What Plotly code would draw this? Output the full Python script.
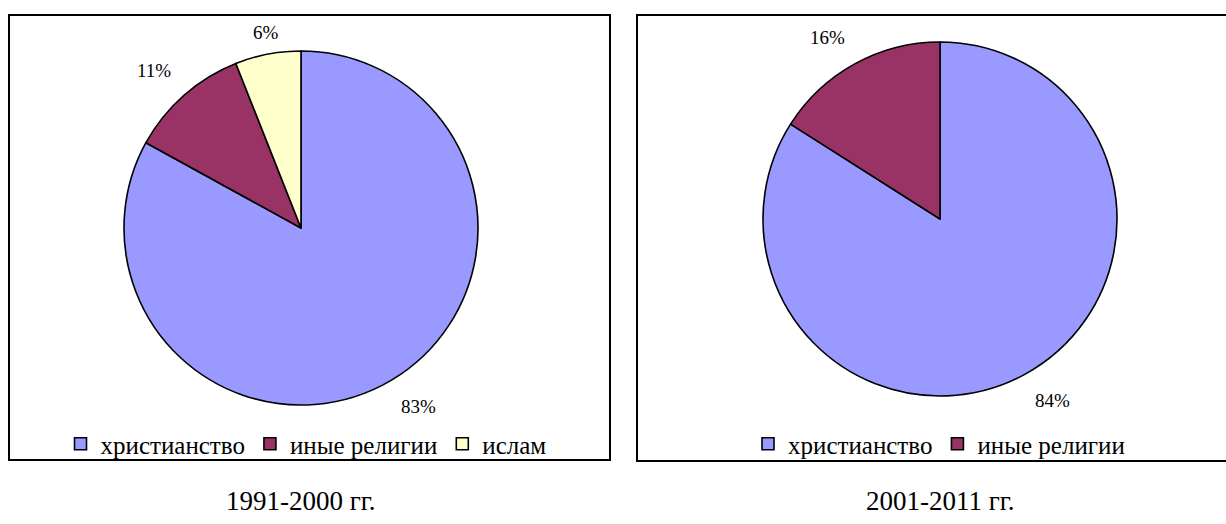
import math
import plotly.graph_objects as go

W, H = 1226, 524

# Religious affiliation shares, two periods
labels_1 = ["христианство", "иные религии", "ислам"]
values_1 = [83, 11, 6]
labels_2 = ["христианство", "иные религии"]
values_2 = [84, 16]
captions = ["1991-2000 гг.", "2001-2011 гг."]

colors = {"христианство": "#9999FF", "иные религии": "#993366", "ислам": "#FFFFCC"}
SERIF = "Liberation Serif"

# pie geometry in pixels: (centre x, centre y, radius)
pies = [(301, 228, 177), (940, 219, 177)]


def px_x(x):
    return x / W


def px_y(y):
    return 1 - y / H


fig = go.Figure()
annotations = []
for i, (labels, values) in enumerate([(labels_1, values_1), (labels_2, values_2)]):
    cx, cy, r = pies[i]
    fig.add_trace(go.Pie(
        labels=labels,
        values=values,
        sort=False,
        direction="clockwise",
        rotation=0,
        textinfo="none",
        hoverinfo="skip",
        marker=dict(colors=[colors[l] for l in labels],
                    line=dict(color="black", width=1.6)),
        domain=dict(x=[px_x(cx - r), px_x(cx + r)],
                    y=[px_y(cy + r), px_y(cy - r)]),
        legend="legend" if i == 0 else "legend2",
        legendgroup=f"period{i + 1}",
        showlegend=True,
    ))
    # percentage labels placed just outside each slice's mid-angle
    total = sum(values)
    cum = 0
    R = r * 1.09
    for v in values:
        theta = 2 * math.pi * (cum + v / 2) / total
        cum += v
        s, c = math.sin(theta), math.cos(theta)
        xa = "left" if s > 0.3 else ("right" if s < -0.3 else "center")
        ya = "bottom" if c > 0 else "top"
        rr = R if xa != "center" else R * 0.965
        annotations.append(dict(
            x=px_x(cx + rr * s), y=px_y(cy - rr * c), xref="paper", yref="paper",
            text=f"{round(100 * v / total)}%", showarrow=False,
            xanchor=xa, yanchor=ya,
            font=dict(family=SERIF, size=19, color="black"),
        ))

# period captions under each chart
for i, cap in enumerate(captions):
    annotations.append(dict(
        x=px_x(pies[i][0]), y=px_y(501), xref="paper", yref="paper",
        text=cap, showarrow=False, xanchor="center", yanchor="middle",
        font=dict(family=SERIF, size=27, color="black"),
    ))

shapes = [
    dict(type="rect", xref="paper", yref="paper", layer="below",
         x0=px_x(9), x1=px_x(610), y0=px_y(460), y1=px_y(15),
         line=dict(color="black", width=2), fillcolor="white"),
    dict(type="rect", xref="paper", yref="paper", layer="below",
         x0=px_x(637), x1=px_x(1240), y0=px_y(461), y1=px_y(15),
         line=dict(color="black", width=2), fillcolor="white"),
]

legend_style = dict(
    orientation="h", xanchor="center", yanchor="middle",
    font=dict(family=SERIF, size=25, color="black"),
    bgcolor="rgba(0,0,0,0)", borderwidth=0, traceorder="normal",
)

fig.update_layout(
    width=W, height=H,
    margin=dict(l=0, r=0, t=0, b=0),
    paper_bgcolor="white", plot_bgcolor="white",
    showlegend=True,
    shapes=shapes,
    annotations=annotations,
    legend=dict(x=px_x(306), y=px_y(444), **legend_style),
    legend2=dict(x=px_x(939), y=px_y(444), **legend_style),
)

fig.write_html("out.html")
